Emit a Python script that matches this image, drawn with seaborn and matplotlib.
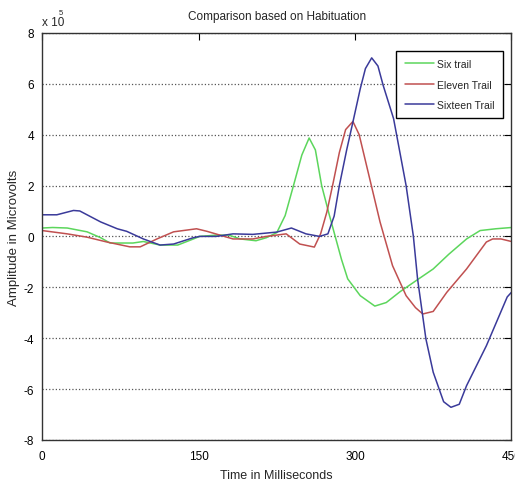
import pandas as pd
import seaborn as sns
import matplotlib.pyplot as plt

# values (amplitude in units of 1e5)
six_t = [0, 10, 24, 43, 56, 65, 87, 97, 113, 130, 145, 151, 167, 179, 190, 205, 215,
         225, 233, 241, 249, 256, 262, 268, 275, 281, 287, 293, 305, 319, 330, 343,
         360, 375, 390, 407, 420, 435, 450]
six_v = [0.33, 0.35, 0.33, 0.18, -0.05, -0.26, -0.26, -0.2, -0.34, -0.34, -0.1, 0.0,
         0.05, 0.05, -0.1, -0.17, -0.05, 0.15, 0.82, 2.0, 3.2, 3.87, 3.4, 2.0, 0.9,
         0.0, -0.9, -1.67, -2.33, -2.74, -2.6, -2.18, -1.7, -1.28, -0.7, -0.1, 0.23,
         0.3, 0.35]

eleven_t = [0, 24, 43, 62, 84, 94, 110, 126, 148, 158, 183, 202, 215, 234, 247, 261,
            267, 273, 279, 285, 291, 298, 304, 311, 318, 324, 336, 349, 358, 365, 375,
            388, 407, 426, 432, 440, 450]
eleven_v = [0.23, 0.1, -0.03, -0.22, -0.41, -0.41, -0.1, 0.18, 0.3, 0.2, -0.1, -0.1,
            0.0, 0.1, -0.3, -0.42, 0.1, 0.96, 2.1, 3.3, 4.2, 4.52, 4.0, 2.8, 1.6, 0.57,
            -1.15, -2.33, -2.8, -3.05, -2.95, -2.2, -1.28, -0.22, -0.1, -0.1, -0.2]

sixteen_t = [0, 14, 30, 36, 56, 72, 81, 97, 113, 126, 145, 151, 167, 183, 202, 225,
             239, 253, 266, 274, 280, 285, 292, 298, 305, 310, 316, 322, 327, 337, 349,
             356, 360, 368, 375, 385, 392, 400, 407, 426, 446, 450]
sixteen_v = [0.85, 0.85, 1.02, 1.0, 0.57, 0.3, 0.2, -0.1, -0.34, -0.3, -0.05, 0.0, 0.0,
             0.1, 0.08, 0.17, 0.33, 0.1, 0.0, 0.1, 0.8, 2.0, 3.4, 4.5, 5.8, 6.6, 7.02,
             6.7, 5.94, 4.63, 2.0, 0.0, -1.67, -4.03, -5.34, -6.5, -6.72, -6.6, -5.87,
             -4.3, -2.38, -2.2]

labels = ['Six trail', 'Eleven Trail', 'Sixteen Trail']
colors = ['#5cd65c', '#c05050', '#3a3a9a']

df = pd.concat([
    pd.DataFrame({'Time': six_t, 'Amp': six_v, 'Trail': labels[0]}),
    pd.DataFrame({'Time': eleven_t, 'Amp': eleven_v, 'Trail': labels[1]}),
    pd.DataFrame({'Time': sixteen_t, 'Amp': sixteen_v, 'Trail': labels[2]}),
])

sns.set_style('white')
plt.rcParams['font.family'] = ['Liberation Sans', 'DejaVu Sans']
plt.rcParams['axes.unicode_minus'] = False

fig = plt.figure(figsize=(5.15, 4.85), dpi=100)
ax = fig.add_axes([0.082, 0.091, 0.911, 0.839])

sns.lineplot(data=df, x='Time', y='Amp', hue='Trail', palette=dict(zip(labels, colors)),
             linewidth=1.1, ax=ax, sort=False, estimator=None)

ax.set_xlim(0, 450)
ax.set_ylim(-8, 8)
ax.set_xticks([0, 150, 300, 450])
ax.set_yticks(range(-8, 9, 2))
ax.yaxis.grid(True, linestyle=':', color='#555555', linewidth=0.9)
ax.xaxis.grid(False)
ax.tick_params(direction='in', length=5, top=True, right=True, labelsize=8.5, colors='black')
ax.tick_params(axis='x', pad=7)
ax.tick_params(axis='y', pad=6)
for s in ax.spines.values():
    s.set_color('#333333')
    s.set_linewidth(1.0)

ax.set_title('Comparison based on Habituation', fontsize=8.5, pad=10)
ax.set_xlabel('Time in Milliseconds', fontsize=9, labelpad=5)
ax.set_ylabel('Amplitude in Microvolts', fontsize=9.5)
ax.yaxis.set_label_coords(-0.048, 0.5)
ax.text(0.0, 1.012, 'x 10', transform=ax.transAxes, fontsize=8.5, ha='left', va='bottom')
ax.text(0.036, 1.042, '5', transform=ax.transAxes, fontsize=5.5, ha='left', va='bottom')

leg = ax.legend(loc='upper right', bbox_to_anchor=(0.993, 0.969), fontsize=7.5,
                frameon=True, fancybox=False, handlelength=2.8, borderpad=0.8,
                labelspacing=1.0, handletextpad=0.3)
leg.get_frame().set_edgecolor('black')
leg.get_frame().set_linewidth(1.0)
leg.get_frame().set_alpha(1)

plt.savefig('out.png', dpi=100)
